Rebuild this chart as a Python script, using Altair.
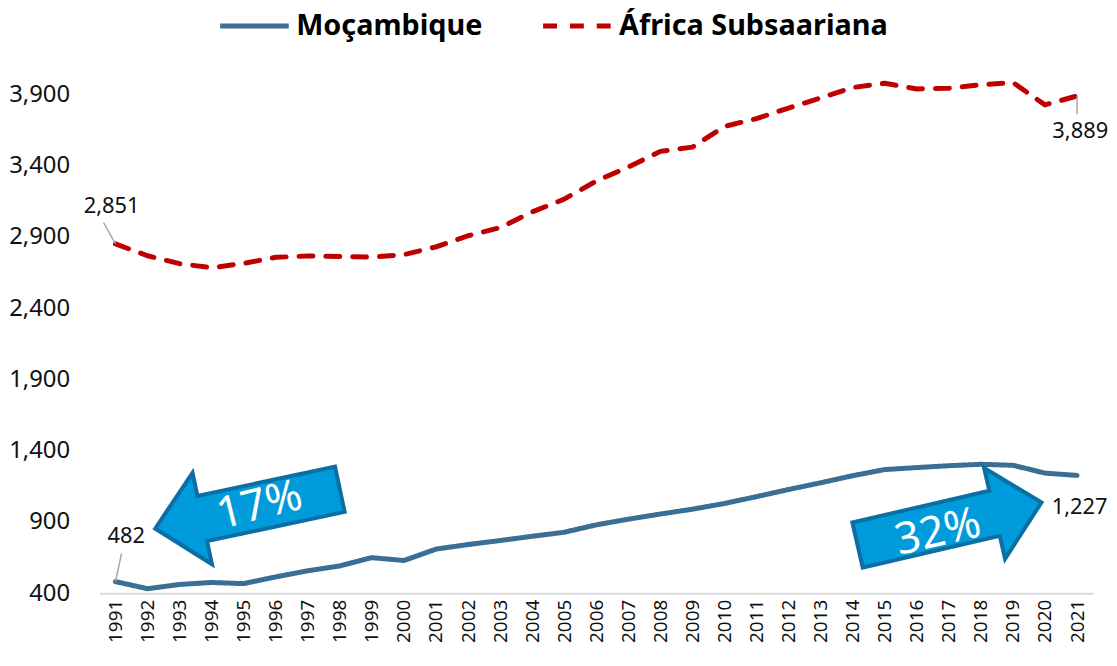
import altair as alt
import pandas as pd

years = list(range(1991, 2022))
mozambique = [482, 432, 462, 476, 468, 515, 558, 592, 650, 630, 710, 742, 770, 800, 828,
              880, 920, 956, 990, 1030, 1078, 1128, 1175, 1225, 1268, 1282, 1295, 1305,
              1298, 1243, 1227]
africa = [2851, 2768, 2712, 2684, 2714, 2757, 2766, 2762, 2758, 2776, 2830, 2908, 2965,
          3075, 3165, 3292, 3390, 3500, 3530, 3675, 3730, 3804, 3875, 3948, 3978, 3938,
          3943, 3967, 3983, 3826, 3889]
series_names = ["Moçambique", "África Subsaariana"]
series_colors = ["#3B6E94", "#C00000"]
y_ticks = [400, 900, 1400, 1900, 2400, 2900, 3400, 3900]

# value labels (text position in data units) and leader lines
label_text = ["482", "1,227", "2,851", "3,889"]
label_year = [1991.34, 2021.08, 1990.88, 2021.1]
label_value = [804, 1006, 3118, 3641]
leader_year = [1991, 1991, 2021]
leader_value = [482, 2851, 3889]
leader_year2 = [1991.19, 1990.63, 2021]
leader_value2 = [679, 3000, 3760]

# growth arrows
arrow_year = [1995.12, 2017.02]
arrow_value = [992, 888]
arrow_angle = [168, 347]
pct_text = ["17%", "32%"]
pct_year = [1995.5, 2016.67]
pct_value = [1013, 825]
pct_angle = [346, 347]

rows = []
for name, vals in zip(series_names, [mozambique, africa]):
    for y, v in zip(years, vals):
        rows.append({"year": y, "value": v, "series": name})
df = pd.DataFrame(rows)

labels_df = pd.DataFrame({"t": label_text, "year": label_year, "value": label_value})
leaders_df = pd.DataFrame({"year": leader_year, "value": leader_value,
                           "year2": leader_year2, "value2": leader_value2})
arrows_df = pd.DataFrame({"year": arrow_year, "value": arrow_value, "angle": arrow_angle})
pct_df = pd.DataFrame({"t": pct_text, "year": pct_year, "value": pct_value, "angle": pct_angle})

FONT = "Noto Sans"
xscale = alt.Scale(domain=[1990.5, 2021.5], nice=False, zero=False)
yscale = alt.Scale(domain=[400, 4150], nice=False, zero=False)

x_axis = alt.Axis(values=years, format="d", labelAngle=270, grid=False, ticks=False,
                  domainColor="#D9D9D9", domainWidth=2, labelFontSize=19,
                  labelFont=FONT, labelColor="#111", labelPadding=6,
                  labelOverlap=False, labelFlush=False)
y_axis = alt.Axis(values=y_ticks, format=",.0f", grid=False, ticks=False, domain=False,
                  labelFontSize=24, labelFont=FONT, labelColor="#111",
                  labelPadding=30, labelOverlap=False, labelFlush=False)

x_enc = alt.X("year:Q", scale=xscale, title=None, axis=x_axis)
y_enc = alt.Y("value:Q", scale=yscale, title=None, axis=y_axis)

legend = alt.Legend(title=None, orient="none", legendX=119, legendY=-70, direction="horizontal",
                    labelFont=FONT, labelFontSize=29, labelFontWeight="bold", labelColor="#000",
                    symbolType="stroke", symbolSize=4761, symbolStrokeWidth=5, labelLimit=0,
                    columnPadding=50, labelOffset=5, padding=0)

lines = alt.Chart(df).mark_line(strokeWidth=5, strokeCap="round", strokeJoin="round").encode(
    x=x_enc,
    y=y_enc,
    color=alt.Color("series:N", scale=alt.Scale(domain=series_names, range=series_colors),
                    legend=legend),
    strokeDash=alt.StrokeDash("series:N",
                              scale=alt.Scale(domain=series_names, range=[[1, 0], [14, 13]]),
                              legend=legend),
)

leaders = alt.Chart(leaders_df).mark_rule(color="#A6A6A6", strokeWidth=1.5).encode(
    x=x_enc, y=y_enc, x2="year2:Q", y2="value2:Q")

labels = alt.Chart(labels_df).mark_text(font=FONT, fontSize=22, color="#111",
                                        align="center", baseline="middle").encode(
    x=x_enc, y=y_enc, text="t:N")

arrow_path = "M -1 -0.245 L 0.49 -0.245 L 0.49 -0.495 L 1 0 L 0.49 0.495 L 0.49 0.245 L -1 0.245 Z"
arrows = alt.Chart(arrows_df).mark_point(shape=arrow_path, size=36100, filled=True,
                                         fill="#009BDB", fillOpacity=1, stroke="#0B6FA3",
                                         strokeWidth=4, opacity=1).encode(
    x=x_enc, y=y_enc, angle=alt.Angle("angle:Q", scale=None))

pcts = alt.Chart(pct_df).mark_text(font=FONT, fontSize=44, color="white",
                                   align="center", baseline="middle").encode(
    x=x_enc, y=y_enc, text="t:N", angle=alt.Angle("angle:Q", scale=None))

chart = alt.layer(lines, leaders, labels, arrows, pcts).properties(
    width=1000, height=538,
    autosize=alt.AutoSizeParams(type="none"),
    padding={"left": 92, "top": 49, "right": 16, "bottom": 52},
).configure(
    background="white",
    view=alt.ViewConfig(stroke=None),
    axisX=alt.AxisConfig(labelOverlap=False),
)

chart.save("out.html", embed_options={"renderer": "svg", "actions": False})
